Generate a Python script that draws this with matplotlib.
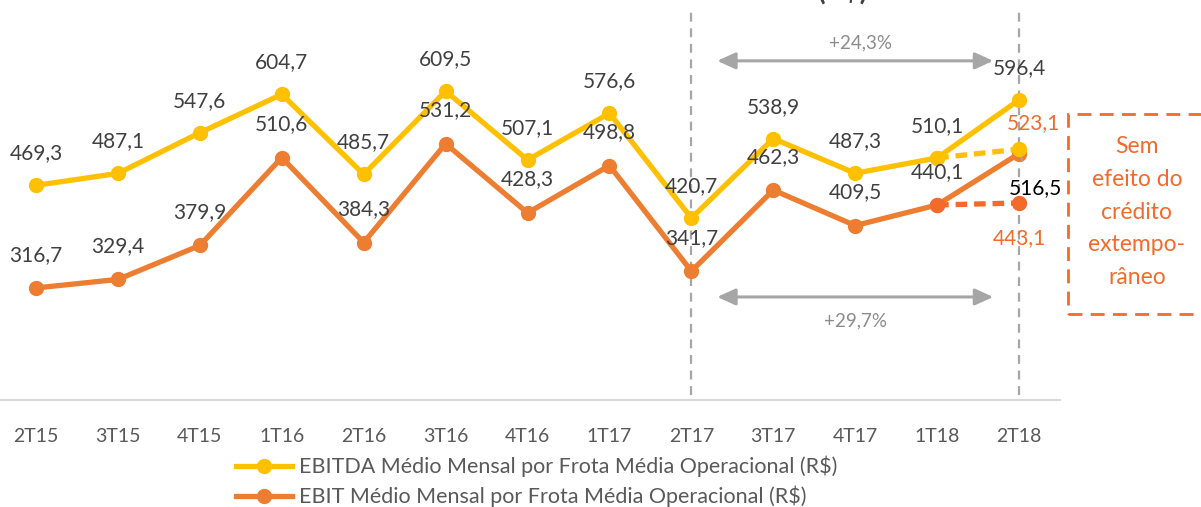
import matplotlib.pyplot as plt
import matplotlib.patches as patches

quarters = ["2T15", "3T15", "4T15", "1T16", "2T16", "3T16", "4T16",
            "1T17", "2T17", "3T17", "4T17", "1T18", "2T18"]
ebitda = [469.3, 487.1, 547.6, 604.7, 485.7, 609.5, 507.1,
          576.6, 420.7, 538.9, 487.3, 510.1, 596.4]
ebit = [316.7, 329.4, 379.9, 510.6, 384.3, 531.2, 428.3,
        498.8, 341.7, 462.3, 409.5, 440.1, 516.5]
# sem efeito do credito extemporaneo (1T18 -> 2T18)
ebitda_adj = [510.1, 523.1]
ebit_adj = [440.1, 443.1]
growth_ebitda = "+24,3%"
growth_ebit = "+29,7%"

YELLOW = "#FFC000"
ORANGE = "#ED7D31"
RED_OR = "#F26B2A"
GRAY = "#A6A6A6"
TXT = "#404040"

plt.rcParams['font.family'] = ['Lato', 'DejaVu Sans']

fig = plt.figure(figsize=(12.01, 5.07), dpi=100)
ax = fig.add_axes([0, 0.211, 0.8826, 0.789])

x = list(range(len(quarters)))
ax.plot(x, ebitda, color=YELLOW, lw=3.8, marker="o", ms=10, zorder=4,
        label="EBITDA Médio Mensal por Frota Média Operacional (R$)")
ax.plot(x, ebit, color=ORANGE, lw=3.8, marker="o", ms=10, zorder=3,
        label="EBIT Médio Mensal por Frota Média Operacional (R$)")
ax.plot(x[-2:], ebitda_adj, color=YELLOW, lw=3.8, ls=(0, (2.2, 1.3)),
        marker="o", ms=10, zorder=5)
ax.plot(x[-2:], ebit_adj, color=RED_OR, lw=3.8, ls=(0, (2.2, 1.3)),
        marker="o", ms=10, zorder=5)

fmt = lambda v: f"{v:.1f}".replace(".", ",")

for i in range(len(quarters) - 1):
    ax.annotate(fmt(ebitda[i]), (i, ebitda[i]), xytext=(0, 23),
                textcoords="offset points", ha="center", va="center",
                fontsize=15, color=TXT, zorder=6)
    ax.annotate(fmt(ebit[i]), (i, ebit[i]), xytext=(0, 24),
                textcoords="offset points", ha="center", va="center",
                fontsize=15, color=TXT, zorder=6)

n = len(quarters) - 1
ax.annotate(fmt(ebitda[n]), (n, ebitda[n]), xytext=(0, 23),
            textcoords="offset points", ha="center", va="center",
            fontsize=15, color=TXT)
ax.annotate(fmt(ebit[n]), (n, ebit[n]), xytext=(11.5, -24.5),
            textcoords="offset points", ha="center", va="center",
            fontsize=15, color="black",
            arrowprops=dict(arrowstyle="-", color=GRAY, lw=1.2,
                            shrinkA=11, shrinkB=2))
ax.annotate(fmt(ebitda_adj[1]), (n, ebitda_adj[1]), xytext=(10, 19),
            textcoords="offset points", ha="center", va="center",
            fontsize=15, color=RED_OR)
ax.annotate(fmt(ebit_adj[1]), (n, ebit_adj[1]), xytext=(0, -25),
            textcoords="offset points", ha="center", va="center",
            fontsize=15, color=RED_OR)

# vertical reference lines
for q in ["2T17", "2T18"]:
    ax.axvline(quarters.index(q), ymin=0.0125, ymax=0.975, color=GRAY,
               lw=1.6, ls=(0, (4, 3)), zorder=1)

# growth arrows
ax.annotate("", xy=(11.685, 654.5), xytext=(8.315, 654.5),
            arrowprops=dict(arrowstyle="<|-|>,head_length=1.1,head_width=0.5",
                            color=GRAY, lw=2.2, shrinkA=0, shrinkB=0))
ax.text(10.06, 681, growth_ebitda, ha="center", va="center", fontsize=13.5,
        color="#8C8C8C")
ax.annotate("", xy=(11.685, 303.3), xytext=(8.315, 303.3),
            arrowprops=dict(arrowstyle="<|-|>,head_length=1.1,head_width=0.5",
                            color=GRAY, lw=2.2, shrinkA=0, shrinkB=0))
ax.text(10.0, 267.6, growth_ebit, ha="center", va="center", fontsize=13.5,
        color="#8C8C8C")

ax.set_xlim(-0.44, 12.50)
ax.set_ylim(150, 745)
ax.set_yticks([])
ax.set_xticks(x)
ax.set_xticklabels(quarters, fontsize=14, color="#595959")
ax.tick_params(axis="x", length=0, pad=20)
for s in ["top", "left", "right"]:
    ax.spines[s].set_visible(False)
ax.spines["bottom"].set_color("#D9D9D9")
ax.spines["bottom"].set_linewidth(1.5)
ax.patch.set_alpha(0)

# dashed note box
box = patches.Rectangle((0.889, 0.3807), 0.13, 0.3943, transform=fig.transFigure,
                        fill=False, edgecolor=RED_OR, lw=2, ls=(0, (5, 3)),
                        clip_on=False)
fig.patches.append(box)
fig.text(0.9467, 0.5818, "Sem\nefeito do\ncrédito\nextempo-\nrâneo", ha="center",
         va="center", fontsize=16.5, color=RED_OR, linespacing=1.68)

# title (cut off at the top edge)
fig.text(0.702, 1 + 1 / 507, "(R$)", ha="center", va="baseline", fontsize=20,
         fontweight="bold", color=TXT)

fig.legend(loc="center", bbox_to_anchor=(0.447, 0.05), ncol=1, frameon=False,
           fontsize=15.5, handlelength=2.6, handletextpad=0.3, labelspacing=0.4,
           labelcolor="#595959")

fig.savefig("out.png", dpi=100)
